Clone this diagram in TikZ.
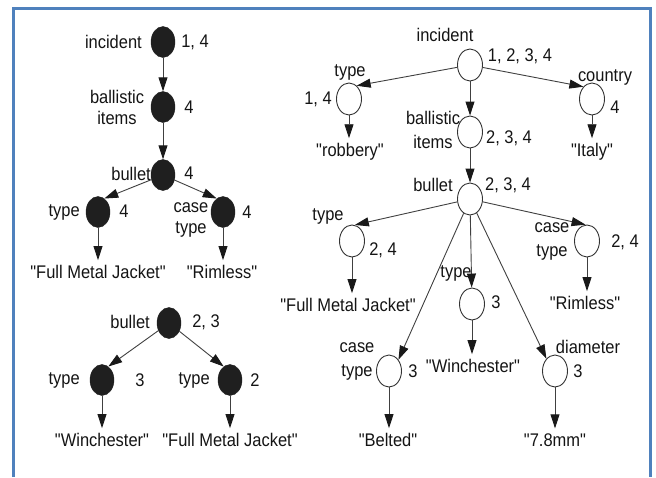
\documentclass[tikz,border=0pt]{standalone}
\usepackage{fontspec}
\setmainfont{Liberation Sans}[FakeStretch=0.9,Ligatures=TeXOff]
\usetikzlibrary{shapes.geometric,arrows.meta}
\definecolor{frameblue}{RGB}{79,129,189}
\begin{document}
\begin{tikzpicture}[x=1pt,y=-1pt,
 fnode/.style={ellipse,draw=black!88,fill=black!88,minimum width=24pt,minimum height=31pt,inner sep=0pt},
 onode/.style={ellipse,draw=black!80,line width=0.9pt,fill=white,minimum width=25pt,minimum height=32pt,inner sep=0pt},
 lbl/.style={inner sep=0pt,text=black!92,font=\fontsize{18.3}{21}\selectfont},
 lbla/.style={lbl,align=center},
 lblb/.style={lbl,align=center,font=\fontsize{18.3}{24}\selectfont},
 arr/.style={draw=black!75,line width=0.9pt,-{Triangle[length=14pt,width=9pt,color=black!90]}},
 arrl/.style={arr,shorten >=5pt},
]
\useasboundingbox (0,0) rectangle (656,477);
\draw[frameblue,line width=3pt] (13.5,477) -- (13.5,8) -- (650.5,8) -- (650.5,477);

% ---------- left tree 1 ----------
\node[fnode] (n1) at (163,42) {};
\node[lbl,anchor=east] (n1l) at (142,42) {incident};
\node[lbl] (n1c) at (195,42) {1, 4};
\node[fnode] (n2) at (163,107) {};
\node[lbla] (n2l) at (117,107) {ballistic\\items};
\node[lbl] (n2c) at (189,107) {4};
\node[fnode] (n3) at (163,175) {};
\node[lbl,anchor=east] (n3l) at (151,174) {bullet};
\node[lbl] (n3c) at (189,173) {4};
\node[fnode] (n4) at (98,212) {};
\node[lbl,anchor=east] (n4l) at (80,212) {type};
\node[lbl] (n4c) at (124,211) {4};
\node[fnode] (n5) at (223,212) {};
\node[lbla] (n5l) at (191,220) {case\\type};
\node[lbl] (n5c) at (247,212) {4};
\node[lbl] (t1) at (98,272) {"Full Metal Jacket"};
\node[lbl] (t2) at (222,272) {"Rimless"};
\draw[arr] (n1) -- (n2);
\draw[arr] (n2) -- (n3);
\draw[arr] (n3) -- (n4.65);
\draw[arr] (n3) -- (n5.115);
\draw[arrl] (n4) -- (n4 |- t1.north);
\draw[arrl] (n5) -- (n5 |- t2.north);

% ---------- left tree 2 ----------
\node[fnode] (m1) at (169,323) {};
\node[lbl,anchor=east] (m1l) at (150,322) {bullet};
\node[lbl] (m1c) at (206,322) {2, 3};
\node[fnode] (m2) at (102,380) {};
\node[lbl,anchor=east] (m2l) at (80,380) {type};
\node[lbl] (m2c) at (140,380) {3};
\node[fnode] (m3) at (230,380) {};
\node[lbl,anchor=east] (m3l) at (210,380) {type};
\node[lbl] (m3c) at (255,380) {2};
\node[lbl] (t3) at (102,440) {"Winchester"};
\node[lbl] (t4) at (230,440) {"Full Metal Jacket"};
\draw[arr] (m1) -- (m2.65);
\draw[arr] (m1) -- (m3.115);
\draw[arrl] (m2) -- (m2 |- t3.north);
\draw[arrl] (m3) -- (m3 |- t4.north);

% ---------- right tree ----------
\node[onode] (r1) at (470,65) {};
\node[lbl] (r1l) at (445,35) {incident};
\node[lbl] (r1c) at (520,56) {1, 2, 3, 4};
\node[onode] (r2) at (349,99) {};
\node[lbl] (r2l) at (350,72) {type};
\node[lbl] (r2c) at (318,99) {1, 4};
\node[lbl] (u1) at (350,152) {"robbery"};
\node[onode] (r3) at (592,99) {};
\node[lbl] (r3l) at (605,77) {country};
\node[lbl] (r3c) at (615,107) {4};
\node[lbl] (u2) at (592,152) {"Italy"};
\node[onode] (r4) at (470,132) {};
\node[lblb] (r4l) at (433,130) {ballistic\\items};
\node[lbl] (r4c) at (509,138) {2, 3, 4};
\node[onode] (r5) at (470,199) {};
\node[lbl] (r5l) at (433,185) {bullet};
\node[lbl] (r5c) at (508,185) {2, 3, 4};
\node[onode] (r6) at (352,241) {};
\node[lbl] (r6l) at (328,216) {type};
\node[lbl] (r6c) at (383,250) {2, 4};
\node[lbl] (u3) at (348,305) {"Full Metal Jacket"};
\node[onode] (r7) at (587,241) {};
\node[lblb] (r7l) at (552,241) {case\\type};
\node[lbl] (r7c) at (625,242) {2, 4};
\node[lbl] (u4) at (585,303) {"Rimless"};
\node[onode] (r8) at (472,304) {};
\node[lbl] (r8l) at (456,273) {type};
\node[lbl] (r8c) at (496,302) {3};
\node[lbl] (u5) at (473,366) {"Winchester"};
\node[onode] (r9) at (389,371) {};
\node[lblb] (r9l) at (357,361) {case\\type};
\node[lbl] (r9c) at (413,371) {3};
\node[lbl] (u6) at (388,440) {"Belted"};
\node[onode] (r10) at (555,371) {};
\node[lbl] (r10l) at (588,347) {diameter};
\node[lbl] (r10c) at (578,371) {3};
\node[lbl] (u7) at (555,440) {"7.8mm"};

\draw[arr] (r1) -- (r2.60);
\draw[arr] (r1) -- (r3.125);
\draw[arr] (r1) -- (r4);
\draw[arr] (r4) -- (r5);
\draw[arr] (r5) -- (r6.80);
\draw[arr] (r5) -- (r7.95);
\draw[arr] (r5) -- (r8);
\draw[arr] (r5) -- (r9.50);
\draw[arr] (r5) -- (r10.125);
\draw[arrl] (r2) -- (r2 |- u1.north);
\draw[arrl] (r3) -- (r3 |- u2.north);
\draw[arrl] (r6) -- (r6 |- u3.north);
\draw[arrl] (r7) -- (r7 |- u4.north);
\draw[arrl] (r8) -- (r8 |- u5.north);
\draw[arrl] (r9) -- (r9 |- u6.north);
\draw[arrl] (r10) -- (r10 |- u7.north);
\end{tikzpicture}
\end{document}
